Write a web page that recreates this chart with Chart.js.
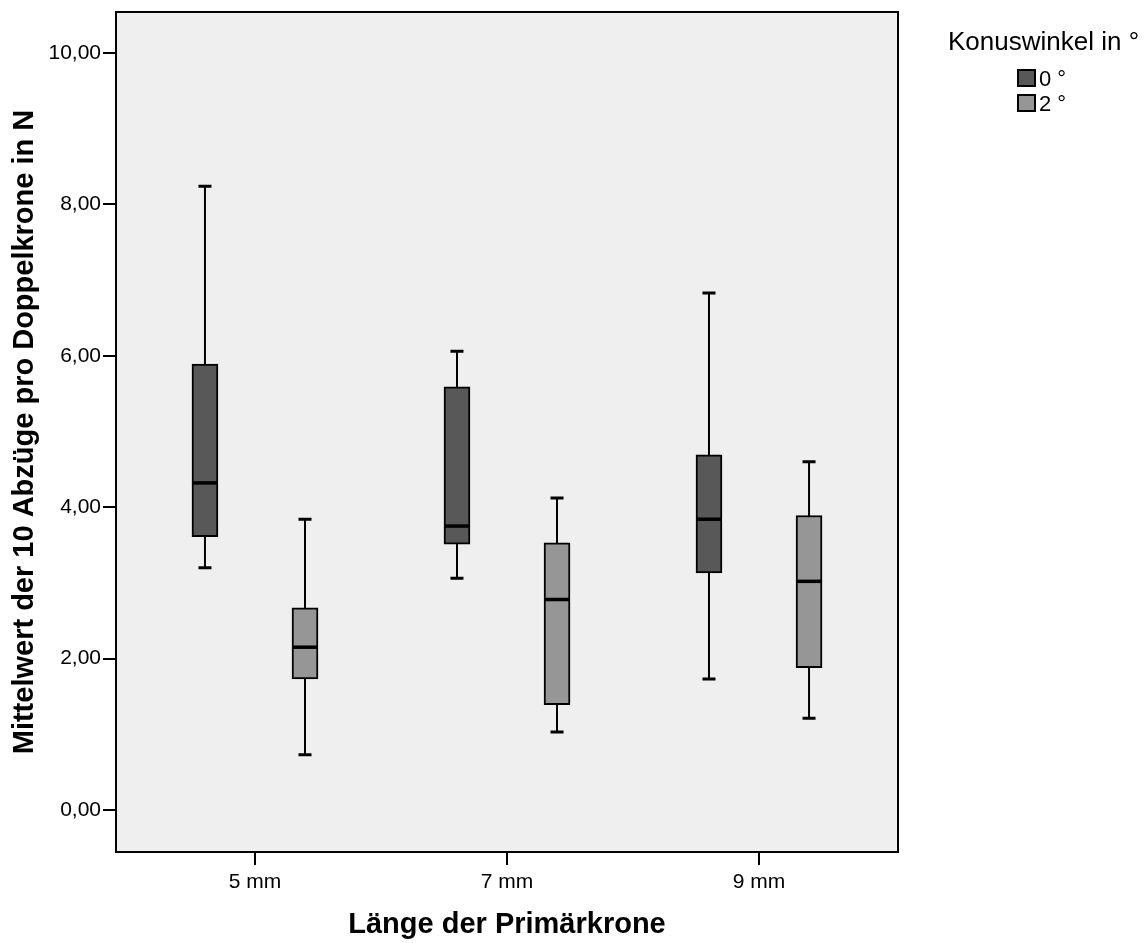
<!DOCTYPE html>
<html>
<head>
<meta charset="utf-8">
<script src="https://cdn.jsdelivr.net/npm/chart.js@4.4.1/dist/chart.umd.min.js"></script>
<style>
  html, body { margin: 0; padding: 0; background: #fff; }
  #wrap { position: relative; width: 1144px; height: 943px; }
  #chart { position: absolute; left: 0; top: 0; }
  .lg { position: absolute; font-family: 'Liberation Sans', Arial, sans-serif; color: #000; white-space: nowrap; }
  .lg-title { left: 948px; top: 28px; font-size: 26px; line-height: 26px; }
  .lg-box { position: absolute; left: 1017px; width: 19px; height: 18px; box-sizing: border-box; border: 2px solid #000; }
  .lg-text { left: 1039px; font-size: 22px; line-height: 22px; }
</style>
</head>
<body>
<div id="wrap">
  <canvas id="chart" width="1144" height="943"></canvas>
  <div id="legend"></div>
</div>
<script>
const FONT = "'Liberation Sans', Arial, sans-serif";

// categories
const lengthLabels = ['5 mm', '7 mm', '9 mm'];
const lengthValues = [5, 7, 9];
const angleLabels = ['0 °', '2 °'];
const angleColors = ['#585858', '#969696'];

// five-number summaries, cone angle 0°
const deg0Min = [3.20, 3.06, 1.73];
const deg0Q1 = [3.61, 3.51, 3.13];
const deg0Median = [4.32, 3.75, 3.84];
const deg0Q3 = [5.89, 5.59, 4.69];
const deg0Max = [8.24, 6.06, 6.83];

// five-number summaries, cone angle 2°
const deg2Min = [0.73, 1.03, 1.21];
const deg2Q1 = [1.73, 1.39, 1.88];
const deg2Median = [2.15, 2.78, 3.02];
const deg2Q3 = [2.67, 3.53, 3.89];
const deg2Max = [3.84, 4.12, 4.60];

const yTicks = [0, 2, 4, 6, 8, 10];

// --- layout constants ---
const GROUP_SHIFT = 0.397;   // half distance between the two boxes of a group (x units)
const BOX_WIDTH = 26;

const groups = [
  { min: deg0Min, q1: deg0Q1, median: deg0Median, q3: deg0Q3, max: deg0Max, shift: -GROUP_SHIFT },
  { min: deg2Min, q1: deg2Q1, median: deg2Median, q3: deg2Q3, max: deg2Max, shift: GROUP_SHIFT }
];

const datasets = groups.map((g, gi) => ({
  label: angleLabels[gi],
  data: lengthValues.map((v, i) => ({ x: v + g.shift, y: [g.q1[i], g.q3[i]] })),
  backgroundColor: angleColors[gi],
  borderColor: '#000',
  borderWidth: 2,
  borderSkipped: false,
  grouped: false,
  barThickness: BOX_WIDTH,
  maxBarThickness: BOX_WIDTH
}));

// --- legend ---
const legendEl = document.getElementById('legend');
legendEl.innerHTML = `<div class="lg lg-title">Konuswinkel in °</div>` +
  angleLabels.map((lab, i) => `
    <div class="lg-box" style="top:${69 + i * 25}px;background:${angleColors[i]}"></div>
    <div class="lg lg-text" style="top:${68 + i * 25}px">${lab}</div>
  `).join('');

// --- plugins ---
const plotFrame = {
  id: 'plotFrame',
  beforeDraw(chart) {
    const { ctx, chartArea: a } = chart;
    ctx.save();
    ctx.fillStyle = '#efefef';
    ctx.fillRect(a.left, a.top, a.right - a.left, a.bottom - a.top);
    ctx.restore();
  },
  afterDraw(chart) {
    const { ctx, chartArea: a } = chart;
    ctx.save();
    ctx.strokeStyle = '#000';
    ctx.lineWidth = 2;
    ctx.strokeRect(a.left, a.top, a.right - a.left, a.bottom - a.top);
    ctx.restore();
  }
};

const whiskers = {
  id: 'whiskers',
  beforeDatasetsDraw(chart) {
    const { ctx, scales: { y } } = chart;
    ctx.save();
    ctx.strokeStyle = '#000';
    groups.forEach((g, gi) => {
      chart.getDatasetMeta(gi).data.forEach((bar, i) => {
        const cx = bar.x;
        const yMin = y.getPixelForValue(g.min[i]);
        const yMax = y.getPixelForValue(g.max[i]);
        ctx.lineWidth = 2;
        ctx.beginPath();
        ctx.moveTo(cx, yMax);
        ctx.lineTo(cx, yMin);
        ctx.stroke();
        ctx.lineWidth = 3;
        ctx.beginPath();
        ctx.moveTo(cx - 6.5, yMax);
        ctx.lineTo(cx + 6.5, yMax);
        ctx.moveTo(cx - 6.5, yMin);
        ctx.lineTo(cx + 6.5, yMin);
        ctx.stroke();
      });
    });
    ctx.restore();
  },
  afterDatasetsDraw(chart) {
    const { ctx, scales: { y } } = chart;
    ctx.save();
    ctx.strokeStyle = '#000';
    ctx.lineWidth = 3.5;
    groups.forEach((g, gi) => {
      chart.getDatasetMeta(gi).data.forEach((bar, i) => {
        const ym = y.getPixelForValue(g.median[i]);
        ctx.beginPath();
        ctx.moveTo(bar.x - bar.width / 2, ym);
        ctx.lineTo(bar.x + bar.width / 2, ym);
        ctx.stroke();
      });
    });
    ctx.restore();
  }
};

new Chart(document.getElementById('chart').getContext('2d'), {
  type: 'bar',
  data: { datasets },
  options: {
    responsive: false,
    animation: false,
    layout: { padding: { left: 0, top: 12, right: 246, bottom: 0 } },
    plugins: { legend: { display: false }, tooltip: { enabled: false } },
    scales: {
      x: {
        type: 'linear',
        offset: false,
        min: 3.897,
        max: 10.103,
        afterBuildTicks: (s) => { s.ticks = lengthValues.map(v => ({ value: v })); },
        afterFit: (s) => { s.height = 91; s.paddingLeft = 0; s.paddingRight = 0; },
        ticks: {
          autoSkip: false,
          maxRotation: 0,
          padding: 5,
          color: '#000',
          font: { family: FONT, size: 21 },
          callback: (v) => lengthLabels[lengthValues.indexOf(v)]
        },
        grid: { offset: false, drawOnChartArea: false, tickLength: 13, color: '#000', lineWidth: 2 },
        border: { display: true, color: '#000', width: 2 },
        title: {
          display: true,
          text: 'Länge der Primärkrone',
          color: '#000',
          font: { family: FONT, size: 29, weight: 'bold' },
          padding: { top: 0, bottom: 1 }
        }
      },
      y: {
        type: 'linear',
        min: -0.555,
        max: 10.54,
        afterBuildTicks: (s) => { s.ticks = yTicks.map(v => ({ value: v })); },
        afterFit: (s) => { s.width = 116; s.paddingTop = 0; s.paddingBottom = 0; },
        ticks: {
          padding: 2,
          color: '#000',
          font: { family: FONT, size: 21 },
          callback: (v) => v.toFixed(2).replace('.', ',')
        },
        grid: { drawOnChartArea: false, tickLength: 13, color: '#000', lineWidth: 2 },
        border: { display: true, color: '#000', width: 2 },
        title: {
          display: true,
          text: 'Mittelwert der 10 Abzüge pro Doppelkrone in N',
          color: '#000',
          font: { family: FONT, size: 29, weight: 'bold' },
          padding: { top: 8, bottom: 0 }
        }
      }
    }
  },
  plugins: [plotFrame, whiskers]
});
</script>
</body>
</html>
